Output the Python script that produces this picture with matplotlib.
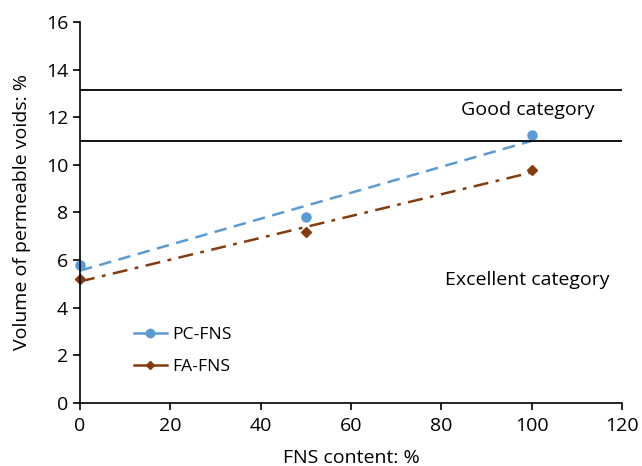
import numpy as np
import matplotlib.pyplot as plt
from matplotlib.lines import Line2D

plt.rcParams['font.family'] = ['Open Sans', 'DejaVu Sans']

# data
fns_content = [0, 50, 100]
pc_fns = [5.8, 7.8, 11.25]
fa_fns = [5.2, 7.2, 9.78]
limits = [13.15, 11.0]  # category boundaries

BLUE = '#5B9BD5'
BROWN = '#843C0C'
FS = 14

fig = plt.figure(figsize=(6.42, 4.66), dpi=100)
ax = fig.add_axes([0.1246, 0.1352, 0.8444, 0.8176])

# linear trend lines
for y, c, ls in [(pc_fns, BLUE, (0, (5, 3))), (fa_fns, BROWN, (0, (6, 3, 1.5, 3)))]:
    k, b = np.polyfit(fns_content, y, 1)
    xx = np.array([fns_content[0], fns_content[-1]])
    ax.plot(xx, k * xx + b, color=c, lw=1.8, linestyle=ls)

ax.plot(fns_content, pc_fns, 'o', color=BLUE, ms=6.5, clip_on=False)
ax.plot(fns_content, fa_fns, 'D', color=BROWN, ms=5, clip_on=False)

for h in limits:
    ax.axhline(h, color='black', lw=1.3)

ax.text(99.2, 12.3, 'Good category', ha='center', va='center', fontsize=FS)
ax.text(99, 5.15, 'Excellent category', ha='center', va='center', fontsize=FS)

handles = [Line2D([], [], color=BLUE, marker='o', ms=6, lw=1.8),
           Line2D([], [], color=BROWN, marker='D', ms=4.5, lw=1.8)]
ax.legend(handles, ['PC-FNS', 'FA-FNS'], loc='lower left', bbox_to_anchor=(0.07, 0.032),
          frameon=False, fontsize=12.6, handlelength=1.9, handletextpad=0.3, labelspacing=0.88)

ax.set_xlim(0, 120)
ax.set_ylim(0, 16)
ax.set_xticks(range(0, 121, 20))
ax.set_yticks(range(0, 17, 2))
ax.spines['top'].set_visible(False)
ax.spines['right'].set_visible(False)
ax.spines['left'].set_linewidth(1.2)
ax.spines['bottom'].set_linewidth(1.2)
ax.tick_params(direction='out', length=5, width=1.2, labelsize=FS, colors='black')
ax.tick_params(axis='x', pad=5)
ax.set_xlabel('FNS content: %', fontsize=FS, labelpad=10)
ax.set_ylabel('Volume of permeable voids: %', fontsize=FS, labelpad=11)

fig.savefig('out.png', dpi=100)
